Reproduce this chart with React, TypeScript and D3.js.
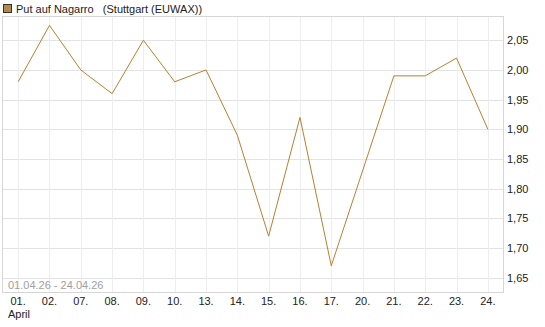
import React, { useRef, useEffect } from 'react';
import * as d3 from 'd3';

const days = ['01.', '02.', '07.', '08.', '09.', '10.', '13.', '14.', '15.', '16.', '17.', '20.', '21.', '22.', '23.', '24.'];
const prices = [1.98, 2.075, 2.0, 1.96, 2.05, 1.98, 2.0, 1.89, 1.72, 1.92, 1.67, 1.83, 1.99, 1.99, 2.02, 1.90];
const yTicks = [1.65, 1.7, 1.75, 1.8, 1.85, 1.9, 1.95, 2.0, 2.05];
const legendLabel = 'Put auf Nagarro   (Stuttgart (EUWAX))';
const rangeLabel = '01.04.26 - 24.04.26';
const monthLabel = 'April';

const W = 545, H = 327;
const plot = { left: 2.5, right: 503.5, top: 16.5, bottom: 292.5 };

function App() {
  const ref = useRef<SVGSVGElement>(null);

  useEffect(() => {
    const svg = d3.select(ref.current);
    svg.selectAll('*').remove();
    const font = '"Liberation Sans", Arial, sans-serif';

    const x = d3.scalePoint<string>().domain(days).range([plot.left, plot.right]).padding(0.5);
    const y = d3.scaleLinear().domain([1.625, 2.09]).range([plot.bottom, plot.top]);

    // legend
    svg.append('rect').attr('x', 3.5).attr('y', 4.5).attr('width', 8).attr('height', 8)
      .attr('fill', '#b5894a').attr('stroke', '#333');
    svg.append('text').attr('x', 16).attr('y', 13).attr('font-family', font).attr('font-size', 11)
      .attr('fill', '#222').style('white-space', 'pre').text(legendLabel);

    // grid
    const g = svg.append('g');
    g.selectAll('.hg').data(yTicks).enter().append('line')
      .attr('x1', plot.left).attr('x2', plot.right)
      .attr('y1', (d) => Math.round(y(d)) + 0.5).attr('y2', (d) => Math.round(y(d)) + 0.5)
      .attr('stroke', '#e3e3e3');
    g.selectAll('.vg').data(days).enter().append('line')
      .attr('x1', (d) => Math.round(x(d)!) + 0.5).attr('x2', (d) => Math.round(x(d)!) + 0.5)
      .attr('y1', plot.top).attr('y2', plot.bottom)
      .attr('stroke', '#eeeeee');
    g.append('rect').attr('x', plot.left).attr('y', plot.top)
      .attr('width', plot.right - plot.left).attr('height', plot.bottom - plot.top)
      .attr('fill', 'none').attr('stroke', '#d6d6d6');

    // range text
    svg.append('text').attr('x', 8).attr('y', 289).attr('font-family', font).attr('font-size', 11)
      .attr('fill', '#a0a0a0').text(rangeLabel);

    // line
    const line = d3.line<number>()
      .x((_, i) => x(days[i])!)
      .y((d) => y(d));
    svg.append('path').datum(prices).attr('d', line)
      .attr('fill', 'none').attr('stroke', '#b8802f').attr('stroke-width', 1);

    // y axis labels
    svg.selectAll('.yl').data(yTicks).enter().append('text')
      .attr('x', 507).attr('y', (d) => y(d) + 4)
      .attr('font-family', font).attr('font-size', 11).attr('fill', '#222')
      .text((d) => d3.format('.2f')(d).replace('.', ','));

    // x axis labels
    svg.selectAll('.xl').data(days).enter().append('text')
      .attr('x', (d) => x(d)!).attr('y', 305).attr('text-anchor', 'middle')
      .attr('font-family', font).attr('font-size', 11).attr('fill', '#222')
      .text((d) => d);
    svg.append('text').attr('x', 8).attr('y', 318).attr('font-family', font).attr('font-size', 11)
      .attr('fill', '#222').text(monthLabel);
  }, []);

  return (
    <svg ref={ref} width={W} height={H} style={{ position: 'absolute', left: 0, top: 0, background: '#fff' }} />
  );
}

export default App;
